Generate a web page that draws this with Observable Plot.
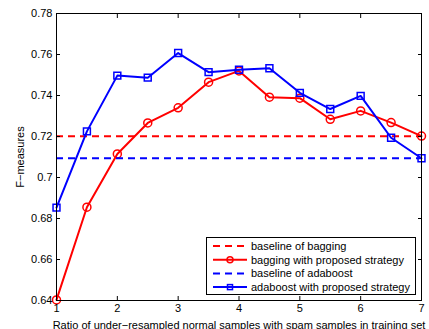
<!DOCTYPE html>
<html>
<head>
<meta charset="utf-8">
<script src="https://cdn.jsdelivr.net/npm/d3@7"></script>
<script src="https://cdn.jsdelivr.net/npm/@observablehq/plot@0.6"></script>
<style>
  body { margin: 0; background: #fff; }
  #wrap { position: relative; width: 429px; height: 329px; font-family: "Liberation Sans", Arial, sans-serif; }
  #legend { position: absolute; left: 206px; top: 237px; width: 208px; height: 56px; border: 1px solid #000; background: #fff; }
  #legend svg { display: block; }
</style>
</head>
<body>
<div id="wrap"></div>
<script>
const ratios = [1, 1.5, 2, 2.5, 3, 3.5, 4, 4.5, 5, 5.5, 6, 6.5, 7];
const baggingProposed = [0.6403, 0.6855, 0.7115, 0.7266, 0.7340, 0.7465, 0.7520, 0.7392, 0.7387, 0.7284, 0.7325, 0.7268, 0.7202];
const adaboostProposed = [0.6853, 0.7225, 0.7497, 0.7487, 0.7607, 0.7514, 0.7526, 0.7533, 0.7413, 0.7334, 0.7398, 0.7194, 0.7094];
const baselineBagging = 0.7201;
const baselineAdaboost = 0.7094;
const xTicks = [1, 2, 3, 4, 5, 6, 7];
const yTicks = [0.64, 0.66, 0.68, 0.70, 0.72, 0.74, 0.76, 0.78];
const seriesNames = ["baseline of bagging", "bagging with proposed strategy", "baseline of adaboost", "adaboost with proposed strategy"];
const xLabel = "Ratio of under\u2212resampled normal samples with spam samples in training set";
const yLabel = "F\u2212measures";

const bag = ratios.map((r, i) => ({x: r, y: baggingProposed[i]}));
const ada = ratios.map((r, i) => ({x: r, y: adaboostProposed[i]}));

const chart = Plot.plot({
  width: 429,
  height: 329,
  marginLeft: 56,
  marginRight: 8,
  marginTop: 13,
  marginBottom: 29,
  style: {fontFamily: "Liberation Sans, Arial, sans-serif", fontSize: "11px", color: "#000", background: "#fff"},
  x: {domain: [1, 7]},
  y: {domain: [0.64, 0.78]},
  marks: [
    Plot.ruleY([baselineBagging], {stroke: "#ff0000", strokeWidth: 2, strokeDasharray: "7,5"}),
    Plot.line(bag, {x: "x", y: "y", stroke: "#ff0000", strokeWidth: 2}),
    Plot.dot(bag, {x: "x", y: "y", r: 4, symbol: "circle", stroke: "#ff0000", strokeWidth: 1.5, fill: "none"}),
    Plot.ruleY([baselineAdaboost], {stroke: "#0000ff", strokeWidth: 2, strokeDasharray: "7,5"}),
    Plot.line(ada, {x: "x", y: "y", stroke: "#0000ff", strokeWidth: 2}),
    Plot.dot(ada, {x: "x", y: "y", r: 3.9, symbol: "square", stroke: "#0000ff", strokeWidth: 1.5, fill: "none"}),
    Plot.frame({stroke: "#000", strokeWidth: 1}),
    Plot.axisX({ticks: xTicks, tickSize: 0, tickPadding: 4, tickFormat: d => String(d), label: xLabel, labelAnchor: "center", labelArrow: "none", labelOffset: 28}),
    Plot.axisX({ticks: xTicks, anchor: "bottom", tickSize: -4, text: null, label: null}),
    Plot.axisX({ticks: xTicks, anchor: "top", tickSize: -4, text: null, label: null}),
    Plot.axisY({ticks: yTicks, tickSize: 0, tickPadding: 4, tickFormat: d => String(+d.toFixed(2)), label: yLabel, labelAnchor: "center", labelArrow: "none", labelOffset: 40}),
    Plot.axisY({ticks: yTicks, anchor: "left", tickSize: -4, text: null, label: null}),
    Plot.axisY({ticks: yTicks, anchor: "right", tickSize: -4, text: null, label: null})
  ]
});

const wrap = document.getElementById("wrap");
wrap.appendChild(chart);

// legend
const legend = document.createElement("div");
legend.id = "legend";
const colors = ["#ff0000", "#ff0000", "#0000ff", "#0000ff"];
const dashed = [true, false, true, false];
const markers = ["none", "circle", "none", "square"];
const ns = "http://www.w3.org/2000/svg";
const svg = document.createElementNS(ns, "svg");
svg.setAttribute("width", 208);
svg.setAttribute("height", 56);
seriesNames.forEach((name, i) => {
  const cy = 8 + i * 13.7;
  const ln = document.createElementNS(ns, "line");
  ln.setAttribute("x1", 6); ln.setAttribute("x2", 40);
  ln.setAttribute("y1", cy); ln.setAttribute("y2", cy);
  ln.setAttribute("stroke", colors[i]); ln.setAttribute("stroke-width", 2);
  if (dashed[i]) ln.setAttribute("stroke-dasharray", "7,5");
  svg.appendChild(ln);
  if (markers[i] === "circle") {
    const c = document.createElementNS(ns, "circle");
    c.setAttribute("cx", 23); c.setAttribute("cy", cy); c.setAttribute("r", 3);
    c.setAttribute("fill", "none"); c.setAttribute("stroke", colors[i]); c.setAttribute("stroke-width", 1.5);
    svg.appendChild(c);
  } else if (markers[i] === "square") {
    const s = document.createElementNS(ns, "rect");
    s.setAttribute("x", 20.5); s.setAttribute("y", cy - 2.5); s.setAttribute("width", 5); s.setAttribute("height", 5);
    s.setAttribute("fill", "none"); s.setAttribute("stroke", colors[i]); s.setAttribute("stroke-width", 1.5);
    svg.appendChild(s);
  }
  const t = document.createElementNS(ns, "text");
  t.setAttribute("x", 44); t.setAttribute("y", cy);
  t.setAttribute("dy", "0.35em");
  t.setAttribute("font-size", "11px");
  t.setAttribute("font-family", "Liberation Sans, Arial, sans-serif");
  t.textContent = name;
  svg.appendChild(t);
});
legend.appendChild(svg);
wrap.appendChild(legend);
</script>
</body>
</html>
